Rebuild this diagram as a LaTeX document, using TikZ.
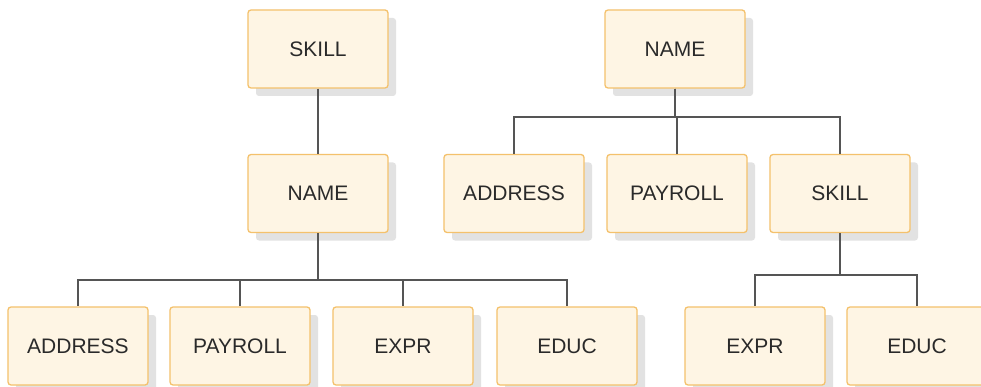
\documentclass[tikz,border=0pt]{standalone}
\usepackage{fontspec}
\setmainfont{Liberation Sans}
\usetikzlibrary{shadows}
\definecolor{boxfill}{HTML}{FEF5E4}
\definecolor{boxline}{HTML}{F4C16C}
\definecolor{txt}{HTML}{2A2A2A}
\definecolor{conn}{HTML}{555555}
\definecolor{shade}{HTML}{E2E2E2}
\tikzset{
  seg/.style={draw=boxline, line width=1.3pt, fill=boxfill, rounded corners=3pt,
    minimum width=140pt, minimum height=78pt, inner sep=0pt,
    font=\fontsize{21}{25}\selectfont, text=txt,
    drop shadow={shadow xshift=8pt, shadow yshift=-8pt, fill=shade, opacity=1, draw=none}},
  link/.style={draw=conn, line width=1.4pt}
}
\begin{document}
\begin{tikzpicture}[x=1pt,y=-1pt]
\useasboundingbox (0,0) rectangle (981,387);
\clip (0,0) rectangle (981,387);
\fill[white] (0,0) rectangle (981,387);
% bar levels
\coordinate (barL) at (0,280);
\coordinate (barR1) at (0,117);
\coordinate (barR2) at (0,275);
% left tree
\node[seg] (skillA) at (318,49) {SKILL};
\node[seg] (nameA) at (318,193.5) {NAME};
\node[seg] (addrA) at (78,346) {ADDRESS};
\node[seg] (payA) at (240,346) {PAYROLL};
\node[seg] (exprA) at (403,346) {EXPR};
\node[seg] (educA) at (567,346) {EDUC};
% right tree
\node[seg] (nameB) at (675,49) {NAME};
\node[seg] (addrB) at (514,193.5) {ADDRESS};
\node[seg] (payB) at (677,193.5) {PAYROLL};
\node[seg] (skillB) at (840,193.5) {SKILL};
\node[seg] (exprB) at (755,346) {EXPR};
\node[seg] (educB) at (917,346) {EDUC};
% links
\draw[link] (skillA.south) -- (nameA.north);
\foreach \c in {addrA,payA,exprA,educA}
  \draw[link] (nameA.south) -- (nameA.south |- barL) -| (\c.north);
\foreach \c in {addrB,payB,skillB}
  \draw[link] (nameB.south) -- (nameB.south |- barR1) -| (\c.north);
\foreach \c in {exprB,educB}
  \draw[link] (skillB.south) -- (skillB.south |- barR2) -| (\c.north);
\end{tikzpicture}
\end{document}
